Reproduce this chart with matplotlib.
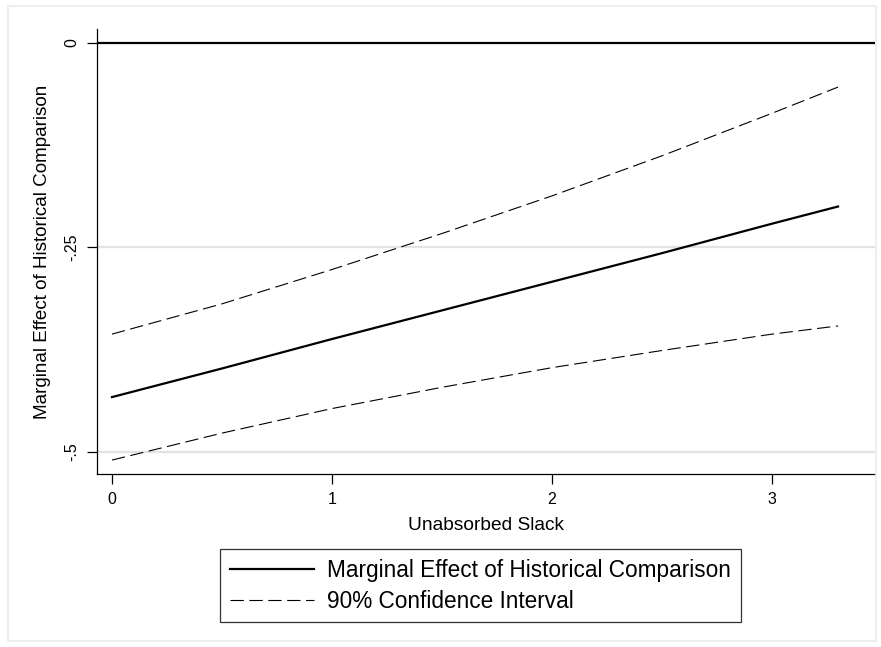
import matplotlib
matplotlib.use("Agg")
import matplotlib.pyplot as plt
from matplotlib.patches import Rectangle

# marginal effect of historical comparison across unabsorbed slack
slack = [0.0, 0.5, 1.0, 1.5, 2.0, 2.5, 3.0, 3.3]
efeito = [-0.433, -0.398, -0.362, -0.327, -0.292, -0.257, -0.221, -0.200]
ic_sup = [-0.356, -0.319, -0.277, -0.233, -0.187, -0.138, -0.086, -0.054]
ic_inf = [-0.510, -0.477, -0.447, -0.421, -0.397, -0.376, -0.356, -0.346]

x_ticks = [0, 1, 2, 3]
y_ticks = [0, -0.25, -0.5]
y_rotulos = ["0", "-.25", "-.5"]

plt.rcParams['font.family'] = ['Liberation Sans', 'DejaVu Sans']

fig = plt.figure(figsize=(8.81, 6.47), dpi=100)
fig.patches.append(Rectangle((8 / 881, 1 - 641 / 647), 868 / 881, 635 / 647,
                             transform=fig.transFigure, fill=False,
                             edgecolor='#ebebeb', linewidth=1.2))

eixo = fig.add_axes([97 / 881, 1 - 474 / 647, 778 / 881, 445 / 647])

for y in y_ticks[1:]:
    eixo.axhline(y, color='#e3e3e3', linewidth=1.6, zorder=0)
eixo.axhline(0, color='black', linewidth=1.6, zorder=2)

eixo.plot(slack, efeito, color='black', linewidth=1.6,
          label='Marginal Effect of Historical Comparison')
eixo.plot(slack, ic_sup, color='black', linewidth=0.8, dashes=(12, 5),
          label='90% Confidence Interval')
eixo.plot(slack, ic_inf, color='black', linewidth=0.8, dashes=(12, 5))

eixo.set_xlim(-0.068, 3.468)
eixo.set_ylim(-0.527, 0.017)

eixo.spines['top'].set_visible(False)
eixo.spines['right'].set_visible(False)
eixo.spines['left'].set_linewidth(0.9)
eixo.spines['bottom'].set_linewidth(0.9)

eixo.set_xticks(x_ticks)
eixo.set_yticks(y_ticks)
eixo.set_yticklabels(y_rotulos, rotation=90, va='center')
eixo.tick_params('both', direction='out', length=7, width=0.9,
                 labelsize=11.5, pad=6)

eixo.set_xlabel('Unabsorbed Slack', fontsize=13.8, labelpad=7)
eixo.set_ylabel('Marginal Effect of Historical Comparison', fontsize=13.6,
                labelpad=9)

leg = fig.legend(loc='upper left', bbox_to_anchor=(220 / 881, 1 - 549 / 647),
                 fontsize=16.3, frameon=True, fancybox=False,
                 handlelength=3.75, borderpad=0.42, labelspacing=0.36,
                 handletextpad=0.57, borderaxespad=0)
leg.get_frame().set_edgecolor('black')
leg.get_frame().set_linewidth(0.9)

plt.savefig('out.png', dpi=100)
